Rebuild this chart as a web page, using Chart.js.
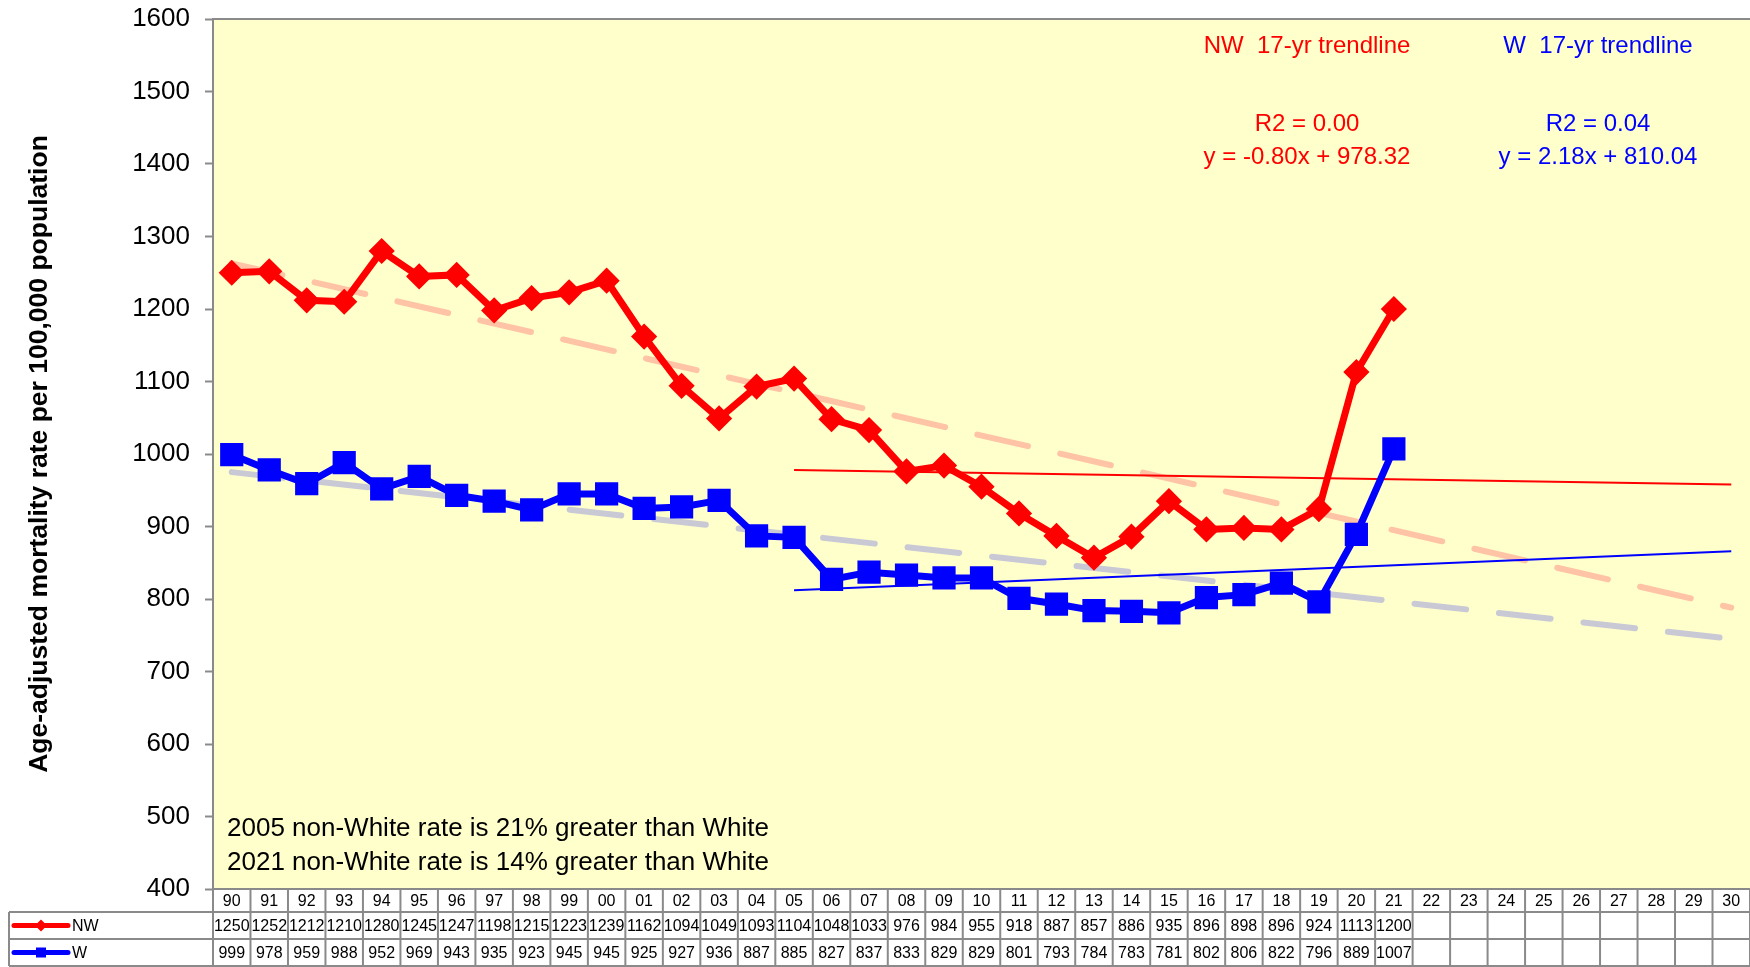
<!DOCTYPE html>
<html>
<head>
<meta charset="utf-8">
<script src="https://cdn.jsdelivr.net/npm/chart.js@4"></script>
<style>
  html, body { margin: 0; padding: 0; background: #ffffff; }
  #wrap { width: 1750px; height: 967px; }
</style>
</head>
<body>
<div id="wrap"><canvas id="mortChart" width="1750" height="967"></canvas></div>
<script>
// -----------------------------
// Data
// -----------------------------
const years = ["90","91","92","93","94","95","96","97","98","99",
  "00","01","02","03","04","05","06","07","08","09",
  "10","11","12","13","14","15","16","17","18","19",
  "20","21","22","23","24","25","26","27","28","29","30"];

const nwRates = [1250,1252,1212,1210,1280,1245,1247,1198,1215,1223,
  1239,1162,1094,1049,1093,1104,1048,1033,976,984,
  955,918,887,857,886,935,896,898,896,924,1113,1200];

const wRates = [999,978,959,988,952,969,943,935,923,945,
  945,925,927,936,887,885,827,837,833,829,
  829,801,793,784,783,781,802,806,822,796,889,1007];

// trendline end points
const nwLongTrend = [{ x: "90", y: 1263 }, { x: "30", y: 788 }];
const wLongTrend = [{ x: "90", y: 975 }, { x: "30", y: 745 }];
const nw17Trend = [{ x: "05", y: 978 }, { x: "30", y: 958 }];
const w17Trend = [{ x: "05", y: 812 }, { x: "30", y: 866 }];

const yTicks = { min: 400, max: 1600, step: 100 };

const nwLabel = ["NW  17-yr trendline", "R2 = 0.00", "y = -0.80x + 978.32"];
const wLabel = ["W  17-yr trendline", "R2 = 0.04", "y = 2.18x + 810.04"];
const notes = [
  "2005 non-White rate is 21% greater than White",
  "2021 non-White rate is 14% greater than White"
];

const FONT = "'Liberation Sans', Arial, sans-serif";
const GRID = "#8a8a8a";

// -----------------------------
// Plugins
// -----------------------------
const plotBg = {
  id: "plotBg",
  beforeDraw(chart) {
    const { ctx, chartArea: a } = chart;
    ctx.save();
    ctx.fillStyle = "#ffffcc";
    ctx.fillRect(a.left, a.top, a.right - a.left, a.bottom - a.top);
    ctx.strokeStyle = GRID;
    ctx.lineWidth = 2;
    ctx.beginPath();
    ctx.moveTo(a.left, a.top);
    ctx.lineTo(a.right, a.top);
    ctx.stroke();
    ctx.restore();
  }
};

function drawMarkerIcon(ctx, color, style, cx, cy) {
  ctx.strokeStyle = color;
  ctx.fillStyle = color;
  ctx.lineWidth = 5;
  ctx.lineCap = "round";
  ctx.beginPath();
  ctx.moveTo(cx - 27, cy);
  ctx.lineTo(cx + 27, cy);
  ctx.stroke();
  ctx.beginPath();
  if (style === "diamond") {
    ctx.moveTo(cx, cy - 6);
    ctx.lineTo(cx + 6, cy);
    ctx.lineTo(cx, cy + 6);
    ctx.lineTo(cx - 6, cy);
    ctx.closePath();
  } else {
    ctx.rect(cx - 5, cy - 5, 10, 10);
  }
  ctx.fill();
}

const dataTable = {
  id: "dataTable",
  afterDraw(chart) {
    const { ctx, chartArea: a } = chart;
    const xs = chart.scales.x;
    const n = years.length;
    const w = (a.right - a.left) / n;
    const top = a.bottom, r1 = 912, r2 = 939, bot = 966;
    ctx.save();

    // grid
    ctx.strokeStyle = GRID;
    ctx.lineWidth = 2;
    ctx.beginPath();
    ctx.moveTo(a.left, top); ctx.lineTo(a.right, top);
    ctx.moveTo(9, r1); ctx.lineTo(a.right, r1);
    ctx.moveTo(9, r2); ctx.lineTo(a.right, r2);
    ctx.moveTo(9, bot); ctx.lineTo(a.right, bot);
    ctx.moveTo(9, r1); ctx.lineTo(9, bot);
    for (let i = 0; i <= n; i++) {
      const x = a.left + i * w;
      ctx.moveTo(x, top); ctx.lineTo(x, bot);
    }
    ctx.stroke();

    // text
    ctx.fillStyle = "#000";
    ctx.font = "16px " + FONT;
    ctx.textAlign = "center";
    ctx.textBaseline = "middle";
    years.forEach((yr, i) => {
      const x = xs.getPixelForValue(i);
      ctx.fillText(yr, x, (top + r1) / 2 + 1);
      if (nwRates[i] != null) ctx.fillText(String(nwRates[i]), x, (r1 + r2) / 2 + 1);
      if (wRates[i] != null) ctx.fillText(String(wRates[i]), x, (r2 + bot) / 2 + 1);
    });

    // legend keys
    drawMarkerIcon(ctx, "#ff0000", "diamond", 41, (r1 + r2) / 2);
    drawMarkerIcon(ctx, "#0000ff", "square", 41, (r2 + bot) / 2);
    ctx.fillStyle = "#000";
    ctx.textAlign = "left";
    ctx.font = "16px " + FONT;
    ctx.fillText("NW", 72, (r1 + r2) / 2 + 1);
    ctx.fillText("W", 72, (r2 + bot) / 2 + 1);

    // trendline notes
    ctx.textAlign = "center";
    ctx.font = "24px " + FONT;
    ctx.fillStyle = "#ff0000";
    ctx.fillText(nwLabel[0], 1307, 46);
    ctx.fillText(nwLabel[1], 1307, 124);
    ctx.fillText(nwLabel[2], 1307, 157);
    ctx.fillStyle = "#0000ff";
    ctx.fillText(wLabel[0], 1598, 46);
    ctx.fillText(wLabel[1], 1598, 124);
    ctx.fillText(wLabel[2], 1598, 157);

    // bottom-left notes
    ctx.textAlign = "left";
    ctx.fillStyle = "#000";
    ctx.font = "26px " + FONT;
    ctx.fillText(notes[0], 227, 829);
    ctx.fillText(notes[1], 227, 863);

    ctx.restore();
  }
};

// -----------------------------
// Chart
// -----------------------------
function initChart() {
  const canvas = document.getElementById("mortChart");
  const ctx = canvas.getContext("2d");

  new Chart(ctx, {
    type: "line",
    data: {
      labels: years,
      datasets: [
        {
          label: "NW",
          data: nwRates,
          borderColor: "#ff0000",
          backgroundColor: "#ff0000",
          borderWidth: 7,
          pointStyle: "rectRot",
          pointRadius: 11,
          pointBorderWidth: 3,
          pointBorderColor: "#ff0000",
          tension: 0
        },
        {
          label: "W",
          data: wRates,
          borderColor: "#0000ff",
          backgroundColor: "#0000ff",
          borderWidth: 7,
          pointStyle: "rect",
          pointRadius: 15,
          pointBorderWidth: 2,
          pointBorderColor: "#0000ff",
          tension: 0
        },
        {
          label: "NW 17-yr trend",
          data: nw17Trend,
          borderColor: "#ff0000",
          borderWidth: 2,
          pointRadius: 0
        },
        {
          label: "W 17-yr trend",
          data: w17Trend,
          borderColor: "#0000ff",
          borderWidth: 2,
          pointRadius: 0
        },
        {
          label: "NW trend",
          data: nwLongTrend,
          borderColor: "#ffc3a5",
          borderWidth: 6,
          borderDash: [52, 33],
          borderCapStyle: "round",
          pointRadius: 0
        },
        {
          label: "W trend",
          data: wLongTrend,
          borderColor: "#c9c9d6",
          borderWidth: 6,
          borderDash: [52, 33],
          borderCapStyle: "round",
          pointRadius: 0
        }
      ]
    },
    options: {
      responsive: false,
      animation: false,
      layout: { autoPadding: false, padding: { left: 0, top: 19, right: 0, bottom: 78 } },
      plugins: {
        legend: { display: false },
        tooltip: { enabled: false }
      },
      scales: {
        x: {
          type: "category",
          display: false,
          offset: true
        },
        y: {
          min: yTicks.min,
          max: yTicks.max,
          afterFit(scale) {
            scale.width = 213;
            scale.paddingTop = 0;
            scale.paddingBottom = 0;
          },
          ticks: {
            stepSize: yTicks.step,
            padding: 15,
            color: "#000",
            font: { family: FONT, size: 26 },
            callback: (v) => String(v)
          },
          grid: {
            drawOnChartArea: false,
            drawTicks: true,
            tickLength: 8,
            tickWidth: 2,
            color: GRID
          },
          border: { color: GRID, width: 2 },
          title: {
            display: true,
            text: "Age-adjusted mortality rate per 100,000 population",
            color: "#000",
            font: { family: FONT, size: 26.5, weight: "bold" },
            padding: { top: 24, bottom: 0 }
          }
        }
      }
    },
    plugins: [plotBg, dataTable]
  });
}

initChart();
</script>
</body>
</html>
